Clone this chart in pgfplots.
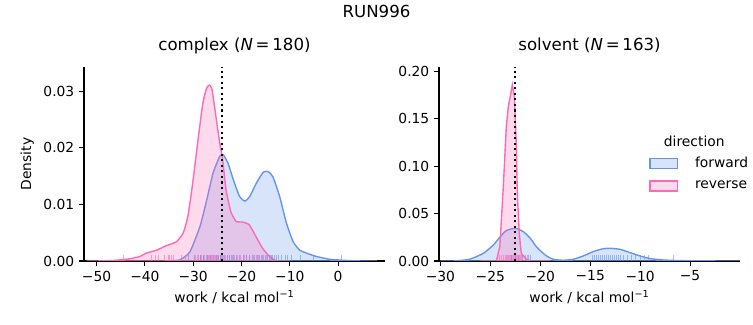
\documentclass[border=0pt]{standalone}
\usepackage{pgfplots}
\pgfplotsset{compat=1.18}
\usepackage{fontspec}
\setmainfont{DejaVu Sans}
\definecolor{fwd}{RGB}{100,149,237}
\definecolor{rev}{RGB}{255,105,180}
\newcommand{\tfont}{\fontsize{10}{12}\selectfont}
\pgfplotsset{
  every axis/.append style={
    scale only axis, width=3.01in, height=1.94in,
    axis x line*=bottom, axis y line*=left,
    axis line style={-, line width=0.8pt},
    tick align=outside, major tick length=3.5pt,
    every tick/.style={black, line width=0.8pt},
    tick label style={font=\tfont},
    label style={font=\tfont},
    title style={font=\fontsize{12}{14}\selectfont, at={(0.5,1)}, anchor=base, yshift=6pt},
    xtick pos=bottom, ytick pos=left,
    scaled y ticks=false, scaled x ticks=false,
    ymin=0,
    clip=true,
  },
  kde/.style={line width=1pt, fill opacity=0.25, draw opacity=1, smooth, tension=0.35},
  rug/.style={ycomb, no markers, line width=0.6pt, opacity=0.6, forget plot},
}
\begin{document}
\begin{tikzpicture}
\path[use as bounding box] (0,0) rectangle (7.53in,3.25in);
\node[font=\fontsize{12}{14}\selectfont, anchor=base] at (3.765in,3.25in-0.175in) {RUN996};
% complex
\begin{axis}[at={(0.84in,0.64in)}, anchor=south west,
  xmin=-52.6, xmax=9.7, ymax=0.0343,
  xtick={-50,-40,-30,-20,-10,0}, xticklabels={−50,−40,−30,−20,−10,0},
  ytick={0,0.01,0.02,0.03}, yticklabels={0.00,0.01,0.02,0.03},
  xlabel={work / kcal mol\textsuperscript{−1}}, ylabel={Density},
  title={complex (\textit{N}\,=\,180)}]
\addplot[kde, draw=fwd, fill=fwd, forget plot] coordinates {
(-36,0) (-32.8,0.0002) (-30.7,0.0016) (-28.6,0.0061) (-27.2,0.0108) (-25.9,0.0155) (-24.5,0.0185) (-23.8,0.0188) (-22.8,0.0173) (-21.7,0.0144) (-20.4,0.0114) (-19.3,0.0106) (-18.3,0.0114) (-16.9,0.0138) (-15.5,0.0157) (-14.5,0.0158) (-13.5,0.0149) (-12.1,0.0114) (-10.7,0.0067) (-9.3,0.0034) (-7.9,0.0019) (-5.9,0.0012) (-4.5,0.0008) (-1.7,0.0003) (1.7,0.0001) (5,0) (8,0)} \closedcycle;
\addplot[kde, draw=rev, fill=rev, forget plot] coordinates {
(-52,0) (-50,0) (-46.5,0.0001) (-43.1,0.0004) (-41.0,0.0008) (-39.7,0.0014) (-37.6,0.0019) (-35.6,0.0027) (-33.5,0.0034) (-32.1,0.0049) (-31.1,0.0079) (-30.1,0.0138) (-29.0,0.0214) (-28.0,0.0279) (-27.2,0.0306) (-26.6,0.0311) (-26.1,0.0303) (-25.3,0.0256) (-24.6,0.0214) (-23.9,0.0179) (-23.2,0.0126) (-22.2,0.0087) (-21.1,0.0070) (-19.8,0.0069) (-18.4,0.0064) (-17.0,0.0043) (-15.6,0.0022) (-14.2,0.0008) (-13.2,0.0002) (-12.2,0) (-10,0)} \closedcycle;
\addplot[rug, rev] table[x index=0, y expr=0.001] {
-44.5
-38.6
-37.8
-37.1
-35.9
-35.2
-34.9
-34.6
-34.0
-32.4
-31.7
-29.6
-29.2
-28.9
-28.5
-28.2
-27.9
-27.6
-27.3
-27.1
-26.9
-26.6
-26.4
-26.2
-26.0
-25.7
-25.5
-25.2
-25.0
-24.7
-24.4
-24.1
-23.7
-23.3
-22.9
-22.4
-21.9
-21.4
-20.8
-20.2
-19.5
-18.9
-18.3
-17.6
-17.0
-16.4
-15.6
-14.8
-14.1
};
\addplot[rug, fwd] table[x index=0, y expr=0.001] {
-31.0
-29.8
-28.6
-27.8
-27.0
-26.4
-25.8
-25.2
-24.7
-24.3
-23.9
-23.5
-23.0
-22.6
-22.1
-21.6
-21.0
-20.4
-19.7
-19.0
-18.4
-17.8
-17.3
-16.8
-16.3
-15.9
-15.5
-15.1
-14.7
-14.3
-13.9
-13.5
-13.1
-12.8
-12.3
-11.8
-11.0
-10.4
-9.6
-7.9
-5.2
0.7
};
\addplot[black, line width=1.5pt, dash pattern=on 1.5pt off 2.5pt, forget plot] coordinates {(-24.08,0) (-24.08,0.0343)};
\end{axis}
% solvent
\begin{axis}[at={(4.39in,0.64in)}, anchor=south west,
  xmin=-30.14, xmax=0, ymax=0.2047,
  xtick={-30,-25,-20,-15,-10,-5}, xticklabels={−30,−25,−20,−15,−10,−5},
  ytick={0,0.05,0.10,0.15,0.20}, yticklabels={0.00,0.05,0.10,0.15,0.20},
  xlabel={work / kcal mol\textsuperscript{−1}},
  title={solvent (\textit{N}\,=\,163)},
  legend style={at={(rel axis cs:0.698,0.55)}, anchor=north west, draw=none, fill=none, font=\tfont, inner sep=0pt, row sep=4pt,
    nodes={inner sep=2pt}, /tikz/every odd column/.append style={column sep=10pt}},
  legend cell align=left,
  legend image code/.code={\draw[#1, draw opacity=1] (0in,-0.05in) rectangle (0.277in,0.05in);}]
\addplot[kde, draw=fwd, fill=fwd] coordinates {
(-30,0) (-28.7,0) (-27.1,0.0018) (-25.7,0.0081) (-24.7,0.0169) (-24.0,0.0257) (-23.4,0.0321) (-22.5,0.0345) (-21.7,0.0310) (-21.0,0.0240) (-20.4,0.0152) (-19.5,0.0063) (-18.7,0.0018) (-17.7,0.0008) (-16.7,0.0018) (-15.7,0.0053) (-14.7,0.0099) (-13.8,0.0127) (-13.0,0.0134) (-12.0,0.0123) (-11.0,0.0088) (-10.0,0.0053) (-9.0,0.0025) (-7.7,0.0011) (-6.0,0.0004) (-1.7,0) (0,0)} \closedcycle;
\addlegendentry{forward}
\addplot[line width=1pt, fill opacity=0.25, draw opacity=1, draw=rev, fill=rev] coordinates {
(-26,0) (-24.4,0) (-24.05,0.0152) (-23.7,0.0786) (-23.4,0.142) (-23.2,0.163) (-23.0,0.174) (-22.8,0.186) (-22.6,0.174) (-22.4,0.124) (-22.3,0.0715) (-22.1,0.029) (-21.9,0.008) (-21.4,0.0018) (-21.0,0) (-19,0)} \closedcycle;
\addlegendentry{reverse}
\addplot[rug, rev] table[x index=0, y expr=0.006] {
-24.1
-23.9
-23.7
-23.5
-23.4
-23.3
-23.2
-23.1
-23.0
-22.9
-22.8
-22.7
-22.6
-22.5
-22.4
-22.3
-22.2
-22.1
-22.0
-21.9
-21.3
};
\addplot[rug, fwd] table[x index=0, y expr=0.006] {
-22.9
-22.5
-22.2
-21.8
-21.5
-21.2
-21.0
-14.8
-14.6
-14.4
-14.2
-14.0
-13.8
-13.6
-13.4
-13.2
-13.0
-12.8
-12.6
-12.4
-12.2
-12.0
-11.7
-11.3
-10.9
-10.5
-10.0
-9.6
-9.2
-6.7
};
\addplot[black, line width=1.5pt, dash pattern=on 1.5pt off 2.5pt, forget plot] coordinates {(-22.54,0) (-22.54,0.2047)};
\node[font=\tfont, anchor=center] at (rel axis cs:0.848,0.619) {direction};
\end{axis}
\end{tikzpicture}
\end{document}
